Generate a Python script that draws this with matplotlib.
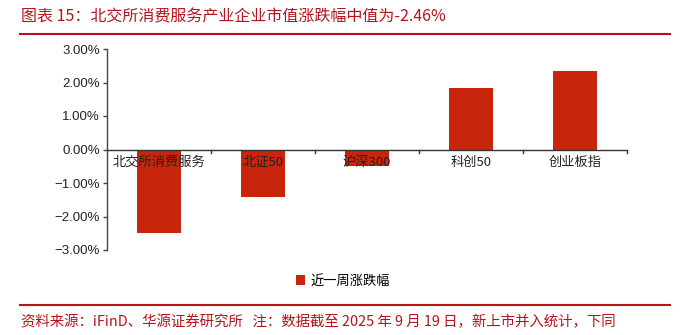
import matplotlib
matplotlib.use('Agg')
from matplotlib import pyplot as plt
from matplotlib.lines import Line2D
from matplotlib.patches import Patch

plt.rcParams['font.family'] = ['Noto Sans CJK SC', 'DejaVu Sans']

categories = ['北交所消费服务', '北证50', '沪深300', '科创50', '创业板指']
weekly_change = [-2.49, -1.43, -0.48, 1.85, 2.33]
yticks = [3, 2, 1, 0, -1, -2, -3]

bar_color = '#C8250C'
red = '#B5141C'

fig = plt.figure(figsize=(6.82, 3.35), dpi=100)
W, H = 682, 335
ax = fig.add_axes([107 / W, (H - 250) / H, 520 / W, 201 / H])

x = list(range(len(categories)))
ax.bar(x, weekly_change, width=0.42, color=bar_color, zorder=2, label='近一周涨跌幅')

ax.set_xlim(-0.5, len(categories) - 0.5)
ax.set_ylim(-3, 3)
ax.set_yticks(yticks)
ax.set_yticklabels(['%.2f%%' % v if v >= 0 else '\u2212%.2f%%' % -v for v in yticks],
                   family='Liberation Sans', fontsize=9.5, color='#222222')
ax.tick_params(axis='y', length=3, width=1, color='#444444', pad=2)

# category labels under the zero line, ticks between categories
ax.set_xticks([])
for i, c in enumerate(categories):
    ax.text(i, -0.18, c, ha='center', va='top', fontsize=9.5, color='#222222', zorder=3)
ax.axhline(0, color='#333333', lw=1, zorder=3)
for b in [0.5, 1.5, 2.5, 3.5, 4.5]:
    ax.plot([b, b], [0, -0.09], color='#333333', lw=1, clip_on=False, zorder=3)

for s in ['top', 'right', 'bottom']:
    ax.spines[s].set_visible(False)
ax.spines['left'].set_color('#444444')
ax.spines['left'].set_linewidth(1)

handles = [Patch(facecolor=bar_color, edgecolor='none')]
fig.legend(handles, ['近一周涨跌幅'], loc='center', bbox_to_anchor=(343 / W, 1 - 281 / H),
           frameon=False, fontsize=9.5, handlelength=0.7, handleheight=0.7, handletextpad=0.4)

fig.text(21 / W, 1 - 17 / H, '图表 15：北交所消费服务产业企业市值涨跌幅中值为-2.46%',
         color=red, fontsize=11.5, fontweight='medium', ha='left', va='center')
fig.add_artist(Line2D([20 / W, 670 / W], [1 - 34 / H, 1 - 34 / H], color=red, lw=1.5))
fig.add_artist(Line2D([20 / W, 670 / W], [1 - 305 / H, 1 - 305 / H], color=red, lw=1.5))
fig.text(21 / W, 1 - 322 / H,
         '资料来源：iFinD、华源证券研究所   注：数据截至 2025 年 9 月 19 日，新上市并入统计，下同',
         color=red, fontsize=10.4, ha='left', va='center')

fig.savefig('out.png', dpi=100)
